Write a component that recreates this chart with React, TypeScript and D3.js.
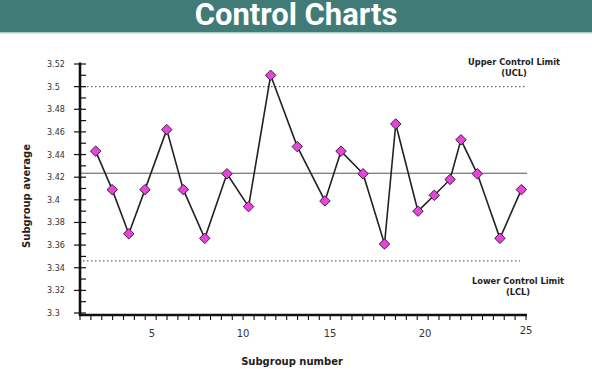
import React from "react";
import * as d3 from "d3";

const title = "Control Charts";
const xLabel = "Subgroup number";
const yLabel = "Subgroup average";
// subgroup position and subgroup average
const subgroups = [1.87, 2.79, 3.71, 4.61, 5.81, 6.72, 7.9, 9.12, 10.32, 11.59, 13.12, 14.71, 15.58, 16.74, 17.87, 18.46, 19.63, 20.46, 21.24, 21.78, 22.59, 23.71, 24.77];
const averages = [3.443, 3.409, 3.37, 3.409, 3.462, 3.409, 3.366, 3.423, 3.394, 3.51, 3.447, 3.399, 3.443, 3.423, 3.361, 3.467, 3.39, 3.404, 3.418, 3.453, 3.423, 3.366, 3.409];
const xTickLabels = [5, 10, 15, 20, 25];
const yTickLabels = [3.3, 3.32, 3.34, 3.36, 3.38, 3.4, 3.42, 3.44, 3.46, 3.48, 3.5, 3.52];
const centerLine = 3.4235;
const ucl = 3.5;
const lcl = 3.346;
const uclText = ["Upper Control Limit", "(UCL)"];
const lclText = ["Lower Control Limit", "(LCL)"];

export default function App() {
  const W = 592, H = 369;
  const x = d3.scaleLinear().domain([1, 5, 10, 15, 20, 25]).range([80, 152, 243, 330, 425, 526]);
  const y = d3.scaleLinear().domain([3.3, 3.52]).range([313, 64]);
  const x0 = 80, x1 = 527, yBase = 315;
  const minorX = d3.scaleLinear().domain([0, 41]).range([x0, x1 - 1]);
  const minorY = d3.range(3.3, 3.5201, 0.01);
  const line = d3.line<number>().x((_, i) => x(subgroups[i])).y((d) => y(d));
  const tickFont = "'DejaVu Sans', Verdana, sans-serif";
  const diamond = d3.symbol().type(d3.symbolDiamond2).size(70)();
  return (
    <svg width={W} height={H} style={{ position: "absolute", left: 0, top: 0, background: "#fff" }}>
      <rect x={0} y={0} width={W} height={32} fill="#407b78" />
      <rect x={0} y={32} width={W} height={1.5} fill="#a9cfcb" />
      <text x={W / 2} y={25} textAnchor="middle" fill="#fff" fontFamily="Roboto, sans-serif" fontWeight={700} fontSize={31}>{title}</text>

      {/* reference lines */}
      <line x1={x0} x2={x1} y1={y(centerLine)} y2={y(centerLine)} stroke="#555" strokeWidth={1} />
      <line x1={x0 + 3} x2={x1} y1={y(ucl)} y2={y(ucl)} stroke="#666" strokeWidth={1.2} strokeDasharray="1.5,2.5" />
      <line x1={x0 + 3} x2={x1 - 7} y1={y(lcl)} y2={y(lcl)} stroke="#666" strokeWidth={1.2} strokeDasharray="1.5,2.5" />

      {/* y axis */}
      <line x1={x0} x2={x0} y1={62.5} y2={yBase + 1} stroke="#111" strokeWidth={2.6} />
      {minorY.map((v, i) => (
        <line key={"my" + i} x1={i % 2 === 0 ? x0 - 6 : x0} x2={x0 + 6} y1={y(v)} y2={y(v)} stroke="#111" strokeWidth={1.2} />
      ))}
      {yTickLabels.map((v) => (
        <text key={"yl" + v} x={47} y={y(v) + 3} fontSize={8} fontFamily={tickFont} fill="#333">{String(v)}</text>
      ))}

      {/* x axis */}
      <line x1={x0 - 1} x2={x1} y1={yBase} y2={yBase} stroke="#111" strokeWidth={2.6} />
      {d3.range(0, 42).map((i) => (
        <line key={"mx" + i} x1={minorX(i)} x2={minorX(i)} y1={yBase} y2={yBase + 5} stroke="#111" strokeWidth={1.1} />
      ))}
      {xTickLabels.map((v) => (
        <text key={"xl" + v} x={x(v)} y={v === 25 ? 334 : 337} textAnchor="middle" fontSize={10} fontFamily={tickFont} fill="#333">{String(v)}</text>
      ))}

      {/* axis titles */}
      <text x={292} y={365} textAnchor="middle" fontSize={10} fontWeight={700} fontFamily={tickFont} fill="#222">{xLabel}</text>
      <text transform="translate(30,196) rotate(-90)" textAnchor="middle" fontSize={10} fontWeight={700} fontFamily={tickFont} fill="#222">{yLabel}</text>

      {/* annotations */}
      {uclText.map((t, i) => (
        <text key={"u" + i} x={514} y={65 + i * 10.5} textAnchor="middle" fontSize={8.3} fontWeight={700} fontFamily={tickFont} fill="#222">{t}</text>
      ))}
      {lclText.map((t, i) => (
        <text key={"l" + i} x={518} y={284 + i * 10.5} textAnchor="middle" fontSize={8.3} fontWeight={700} fontFamily={tickFont} fill="#222">{t}</text>
      ))}

      {/* data */}
      <path d={line(averages) || ""} fill="none" stroke="#222" strokeWidth={1.6} />
      {averages.map((v, i) => (
        <path key={"p" + i} d={diamond || ""} transform={`translate(${x(subgroups[i])},${y(v)})`} fill="#e346d8" stroke="#4a1448" strokeWidth={1} />
      ))}
    </svg>
  );
}
